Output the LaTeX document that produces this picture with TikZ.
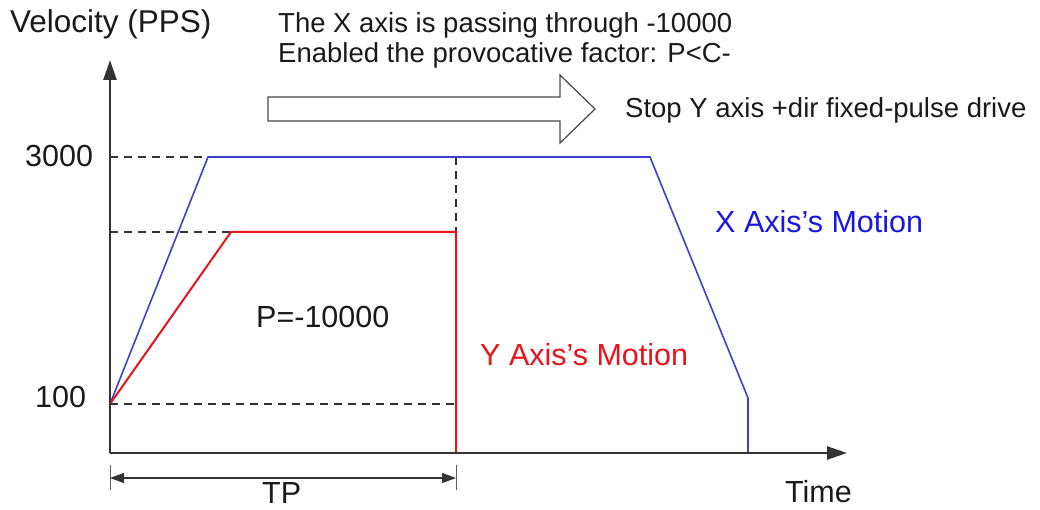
\documentclass[tikz,border=0pt]{standalone}
\usepackage{fontspec}
\setmainfont{Liberation Sans}
\usetikzlibrary{arrows.meta}
\definecolor{axisgray}{HTML}{333333}
\definecolor{xblue}{HTML}{4040D0}
\definecolor{xtext}{HTML}{1818E0}
\definecolor{yred}{HTML}{E8141C}
\definecolor{txtgray}{HTML}{1A1A1A}
\begin{document}
\begin{tikzpicture}[x=1pt,y=-1pt,
  lbl/.style={inner sep=0pt, anchor=base west, text=txtgray, font=\fontsize{30.5}{36}\selectfont},
  toptxt/.style={inner sep=0pt, anchor=base west, text=txtgray, font=\fontsize{27.5}{33}\selectfont},
  axisline/.style={draw=axisgray, line width=2.5pt, -{Triangle[length=20pt,width=13pt]}},
  guide/.style={draw=axisgray, line width=1.4pt, dash pattern=on 8pt off 6pt},
  xmotion/.style={draw=xblue, line width=1.6pt, line join=miter},
  ymotion/.style={draw=yred, line width=2pt, line join=miter},
  dimtick/.style={draw=axisgray!80, line width=1pt},
  dimline/.style={draw=axisgray, line width=1.2pt, {Triangle[length=14pt,width=10pt]}-{Triangle[length=14pt,width=10pt]}},
  hollowarrow/.style={draw=axisgray!90, line width=1.2pt, fill=white, line join=miter}
]
\useasboundingbox (0,0) rectangle (1040,510);
\fill[white] (0,0) rectangle (1040,510);

% key points
\coordinate (O) at (110,453);
\coordinate (ytop) at (110,60);
\coordinate (xend) at (847,453);
\coordinate (s100) at (110,404);
\coordinate (y3000) at (110,157);
\coordinate (ymid) at (110,232);
\coordinate (xa) at (208,157);
\coordinate (xb) at (650,157);
\coordinate (xc) at (748,398);
\coordinate (xd) at (748,453);
\coordinate (ra) at (231,232);
\coordinate (rb) at (456,232);
\coordinate (rc) at (456,453);
\coordinate (vd) at (456,157);
\coordinate (hd) at (456,404);

% guide lines
\draw[guide] (y3000) -- (xa);
\draw[guide] (ymid) -- (ra);
\draw[guide] (s100) -- (hd);
\draw[guide] (vd) -- (rb);

% motions
\draw[xmotion] (s100) -- (xa) -- (xb) -- (xc) -- (xd);
\draw[ymotion] (s100) -- (ra) -- (rb) -- (rc);

% axes
\draw[axisline] (O) -- (ytop);
\draw[axisline] (O) -- (xend);

% TP dimension
\coordinate (t1a) at (110,465); \coordinate (t1b) at (110,490);
\coordinate (t2a) at (456,465); \coordinate (t2b) at (456,490);
\coordinate (d1) at (110,478); \coordinate (d2) at (456,478);
\draw[dimtick] (t1a) -- (t1b);
\draw[dimtick] (t2a) -- (t2b);
\draw[dimline] (d1) -- (d2);

% hollow arrow
\draw[hollowarrow] (268,97) -- (560,97) -- (560,75) -- (595,109) -- (560,143) -- (560,121) -- (268,121) -- cycle;

% texts
\node[lbl, font=\fontsize{31.5}{36}\selectfont] (vel) at (10,33) {Velocity (PPS)};
\node[toptxt] (t1) at (278,33) {The X axis is passing through -10000};
\node[toptxt] (t2) at (278,62.5) {Enabled the provocative factor: P<C-};
\node[toptxt] (stop) at (625,118) {Stop Y axis +dir fixed-pulse drive};
\node[lbl] (l3000) at (25,167) {3000};
\node[lbl] (l100) at (35,407) {100};
\node[lbl] (pval) at (256,327) {P=-10000};
\node[lbl, text=yred] (ylab) at (480,365) {Y Axis’s Motion};
\node[lbl, text=xtext] (xlab) at (715,233) {X Axis’s Motion};
\node[lbl] (time) at (785,502) {Time};
\node[lbl] (tp) at (262,503) {TP};
\end{tikzpicture}
\end{document}
